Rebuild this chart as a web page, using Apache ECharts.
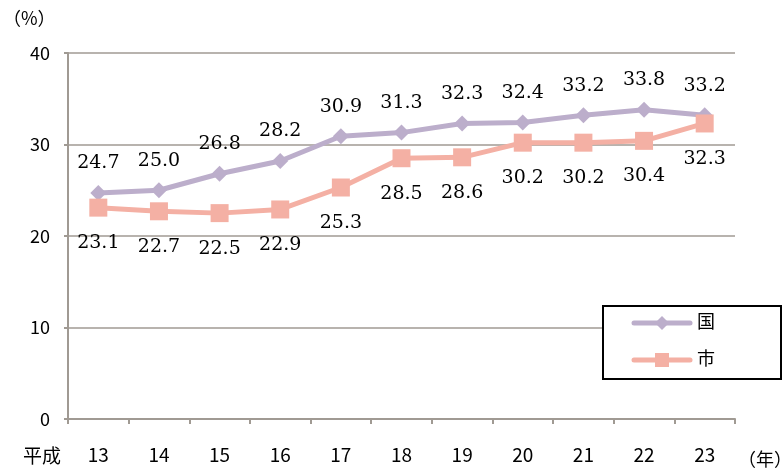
<!DOCTYPE html>
<html>
<head>
<meta charset="utf-8">
<script src="https://cdn.jsdelivr.net/npm/echarts@6/dist/echarts.min.js"></script>
<style>
  html, body { margin: 0; padding: 0; background: #fff; }
  #chart { width: 784px; height: 474px; }
</style>
</head>
<body>
<div id="chart"></div>
<script>
const years = ['13', '14', '15', '16', '17', '18', '19', '20', '21', '22', '23']
const kuni = [24.7, 25.0, 26.8, 28.2, 30.9, 31.3, 32.3, 32.4, 33.2, 33.8, 33.2]
const shi = [23.1, 22.7, 22.5, 22.9, 25.3, 28.5, 28.6, 30.2, 30.2, 30.4, 32.3]
const yTicks = [0, 10, 20, 30, 40]

const axisColor = '#a09a93'
const sans = '"Noto Sans CJK JP", sans-serif'
const serif = '"DejaVu Serif", "Liberation Serif", serif'

const chart = echarts.init(document.getElementById('chart'))

chart.setOption({
  animation: false,
  grid: { left: 68, right: 49, top: 53, bottom: 55 },
  xAxis: {
    type: 'category',
    data: years,
    boundaryGap: true,
    axisLine: { lineStyle: { color: axisColor, width: 2 } },
    axisTick: { show: true, length: 5, lineStyle: { color: axisColor, width: 2 } },
    axisLabel: { color: '#000', fontSize: 19, fontFamily: sans, margin: 26 }
  },
  yAxis: {
    type: 'value',
    min: yTicks[0],
    max: yTicks[yTicks.length - 1],
    interval: 10,
    axisLine: { show: true, lineStyle: { color: axisColor, width: 2 } },
    axisTick: { show: true, length: 4, lineStyle: { color: axisColor, width: 2 } },
    splitLine: { lineStyle: { color: axisColor, width: 1.5 } },
    axisLabel: { color: '#000', fontSize: 18, fontFamily: sans, margin: 18 }
  },
  legend: { show: false },
  series: [
    {
      name: '国',
      type: 'line',
      data: kuni,
      symbol: 'diamond',
      symbolSize: 16,
      lineStyle: { color: '#bcaecb', width: 5 },
      itemStyle: { color: '#bcaecb' },
      label: {
        show: true,
        position: 'top',
        distance: 12,
        color: '#000',
        fontSize: 19,
        fontFamily: serif,
        formatter: p => p.value.toFixed(1)
      },
      z: 3
    },
    {
      name: '市',
      type: 'line',
      data: shi,
      symbol: 'rect',
      symbolSize: 18,
      lineStyle: { color: '#f4b0a4', width: 5 },
      itemStyle: { color: '#f4b0a4' },
      label: {
        show: true,
        position: 'bottom',
        distance: 17,
        color: '#000',
        fontSize: 19,
        fontFamily: serif,
        formatter: p => p.value.toFixed(1)
      },
      z: 4
    }
  ],
  graphic: [
    { type: 'text', left: 3, top: 9, style: { text: '（%）', fontSize: 18, fontFamily: sans, fill: '#000' } },
    { type: 'text', left: 23, top: 446, style: { text: '平成', fontSize: 19, fontFamily: sans, fill: '#000' } },
    { type: 'text', left: 738, top: 450, style: { text: '（年）', fontSize: 18, fontFamily: sans, fill: '#000' } },
    {
      type: 'rect', left: 602, top: 305, z: 10,
      shape: { width: 178, height: 73 },
      style: { fill: '#fff', stroke: '#000', lineWidth: 2 }
    },
    { type: 'line', z: 11, shape: { x1: 634, y1: 323, x2: 690, y2: 323 }, style: { stroke: '#bcaecb', lineWidth: 5, lineCap: 'round' } },
    { type: 'polygon', z: 12, shape: { points: [[662, 316], [669, 323], [662, 330], [655, 323]] }, style: { fill: '#bcaecb' } },
    { type: 'text', z: 12, left: 697, top: 312, style: { text: '国', fontSize: 18, fontFamily: sans, fill: '#000' } },
    { type: 'line', z: 11, shape: { x1: 634, y1: 360, x2: 690, y2: 360 }, style: { stroke: '#f4b0a4', lineWidth: 5, lineCap: 'round' } },
    { type: 'rect', z: 12, shape: { x: 655, y: 353, width: 14, height: 14 }, style: { fill: '#f4b0a4' } },
    { type: 'text', z: 12, left: 697, top: 349, style: { text: '市', fontSize: 18, fontFamily: sans, fill: '#000' } }
  ]
})
</script>
</body>
</html>
